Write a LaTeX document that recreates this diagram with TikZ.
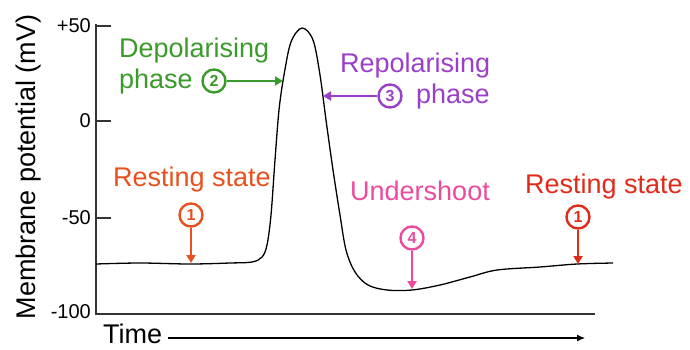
\documentclass[tikz,border=0pt]{standalone}
\usepackage{fontspec}
\setmainfont{Liberation Sans}
\usetikzlibrary{arrows.meta}
\definecolor{RestOrange}{HTML}{E8501E}
\definecolor{RestRed}{HTML}{E02A1A}
\definecolor{DepolGreen}{HTML}{3A9A2A}
\definecolor{RepolPurple}{HTML}{9B3FC8}
\definecolor{UnderPink}{HTML}{EC4A9E}
\definecolor{AxisGray}{HTML}{333333}

\begin{document}
\begin{tikzpicture}[x=1pt,y=-1pt,
    lbl/.style={inner sep=0pt,anchor=base west,font=\fontsize{27}{30}\selectfont},
    ticklbl/.style={inner sep=0pt,anchor=east,font=\fontsize{20}{22}\selectfont},
    numcirc/.style={circle,draw=#1,line width=2.4pt,fill=white,text=#1,
      minimum size=23pt,inner sep=0pt,font=\fontsize{16}{16}\bfseries\selectfont},
    ptr/.style={#1,line width=2.2pt,-{Triangle[length=8pt,width=9pt]}}]
  \useasboundingbox (0,0) rectangle (690,349);
  % axes
  \draw[AxisGray,line width=1.2pt] (96,24) -- (96,314) -- (595,314);
  \foreach \y/\v in {26/+50,121/0,218/-50}{
    \draw[AxisGray,line width=1.2pt] (96,\y) -- (111,\y);
    \node[ticklbl] (tick\y) at (91,\y) {\v};
  }
  \node[ticklbl] (tick314) at (91,312) {-100};
  \node[rotate=90,font=\fontsize{27}{30}\selectfont] (ylabel) at (29,167) {Membrane potential (mV)};
  \node[lbl] (time) at (103,343) {Time};
  \coordinate (timeend) at (585,338);
  \draw[line width=1.1pt,-{Latex[length=8pt,width=7pt]}] (time.east |- timeend) ++(6,0) -- (timeend);
  % action potential
  \draw[line width=1.3pt] plot[smooth,tension=0.55] coordinates {
    (96,264) (140,263) (190,264) (230,263) (252,262) (262,257) (267,245)
    (271,215) (275,160) (279,110) (284,75) (291,42) (302,28) (313,40)
    (320,75) (326,120) (333,170) (340,215) (346,250) (355,272) (368,285)
    (387,290) (412,290) (440,285) (470,277) (497,270) (540,267) (577,264) (613,263)};
  % 1 resting (left)
  \node[lbl,text=RestOrange] (restL) at (113,186) {Resting state};
  \node[numcirc=RestOrange] (c1L) at (191,215) {1};
  \coordinate (tip1L) at (191,263);
  \draw[ptr=RestOrange] (c1L) -- (tip1L);
  % 2 depolarising
  \node[lbl,text=DepolGreen] (depol) at (119,57) {Depolarising};
  \node[lbl,text=DepolGreen] (depolb) at (119,88) {phase};
  \node[numcirc=DepolGreen] (c2) at (214,81) {2};
  \coordinate (tip2) at (283,81);
  \draw[ptr=DepolGreen] (c2) -- (tip2);
  % 3 repolarising
  \node[lbl,text=RepolPurple] (repol) at (340,72) {Repolarising};
  \node[lbl,text=RepolPurple] (repolb) at (416,103) {phase};
  \node[numcirc=RepolPurple] (c3) at (390,96) {3};
  \coordinate (tip3) at (323,96);
  \draw[ptr=RepolPurple] (c3) -- (tip3);
  % 4 undershoot
  \node[lbl,text=UnderPink] (under) at (350,200) {Undershoot};
  \node[numcirc=UnderPink] (c4) at (412,238) {4};
  \coordinate (tip4) at (412,289);
  \draw[ptr=UnderPink] (c4) -- (tip4);
  % 1 resting (right)
  \node[lbl,text=RestRed] (restR) at (525,193) {Resting state};
  \node[numcirc=RestRed] (c1R) at (578,217) {1};
  \coordinate (tip1R) at (578,264);
  \draw[ptr=RestRed] (c1R) -- (tip1R);
\end{tikzpicture}
\end{document}
